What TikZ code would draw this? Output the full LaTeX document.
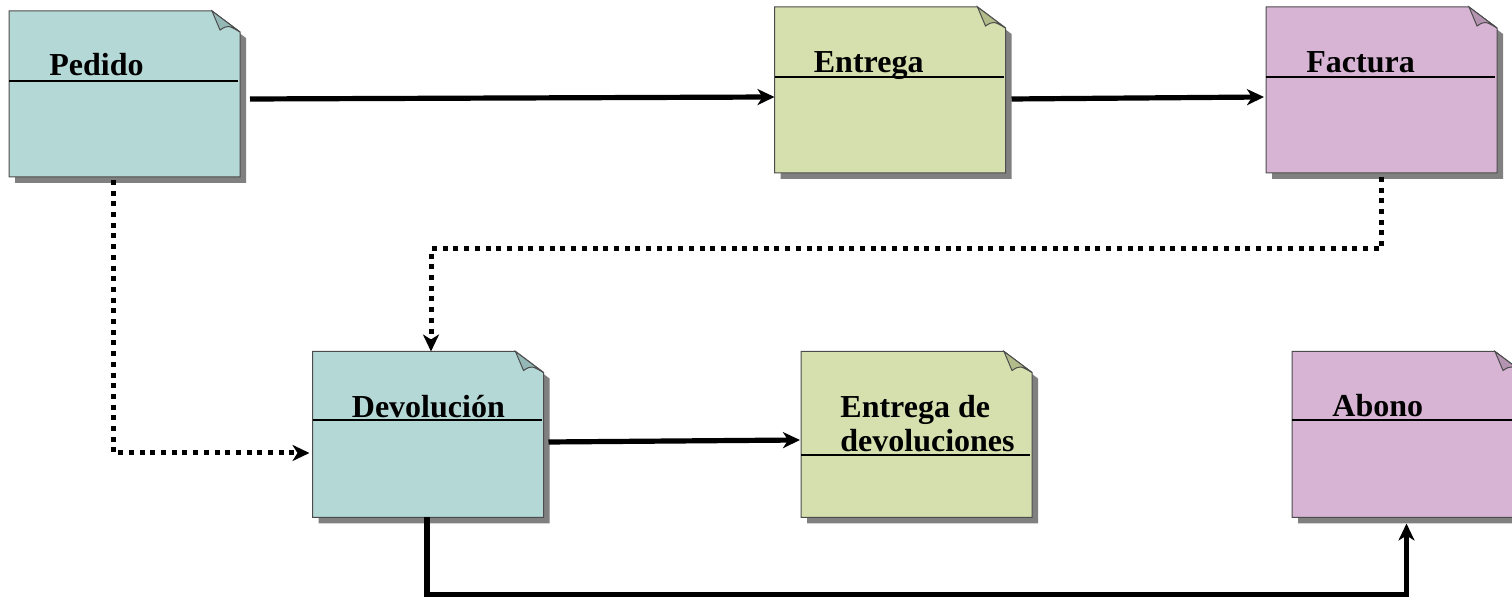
\documentclass[tikz,border=0pt]{standalone}
\usepackage{fontspec}
\setmainfont{Liberation Serif}
\usetikzlibrary{arrows.meta,calc}

\definecolor{tealdoc}{RGB}{180,216,214}
\definecolor{tealfold}{RGB}{148,184,182}
\definecolor{olivedoc}{RGB}{214,223,174}
\definecolor{olivefold}{RGB}{178,188,138}
\definecolor{plumdoc}{RGB}{216,180,212}
\definecolor{plumfold}{RGB}{180,148,176}

\begin{document}
\begin{tikzpicture}[
  x=0.5pt, y=-0.5pt,
  >={Stealth[length=8.5pt, width=8pt, inset=2.5pt]},
  doc/.style={minimum width=115.5pt, minimum height=83pt, inner sep=0pt, outer sep=0pt},
  title/.style={font=\bfseries\fontsize{16}{17}\selectfont, anchor=base west, inner sep=0pt, align=left},
  rule/.style={line width=1pt},
  edge/.style={draw=black!70, line width=0.5pt},
  flow/.style={->, line width=2.6pt},
  dots/.style={->, line width=2.5pt, dash pattern=on 2.5pt off 2.85pt},
]
  \useasboundingbox (0,0) rectangle (1512,597);
  \clip (0,0) rectangle (1512,597);

  \node[doc] (pedido)     at (124.5,94)   {};
  \node[doc] (entrega)    at (890,90)     {};
  \node[doc] (factura)    at (1381.5,90)  {};
  \node[doc] (devolucion) at (428,434.5)  {};
  \node[doc] (entregadev) at (916.5,434.5) {};
  \node[doc] (abono)      at (1407.5,434.5) {};

  % dog-eared sheets with a drop shadow
  \foreach \n/\f/\k in {pedido/tealdoc/tealfold, entrega/olivedoc/olivefold, factura/plumdoc/plumfold,
                        devolucion/tealdoc/tealfold, entregadev/olivedoc/olivefold, abono/plumdoc/plumfold} {
    \fill[gray] ($(\n.north west)+(6,6)$) -- ($(\n.north east)+(-22,6)$) -- ($(\n.north east)+(6,27)$)
      -- ($(\n.south east)+(6,6)$) -- ($(\n.south west)+(6,6)$) -- cycle;
    \filldraw[edge, fill=\f] (\n.north west) -- ($(\n.north east)+(-28,0)$) -- ($(\n.north east)+(0,21)$)
      -- (\n.south east) -- (\n.south west) -- cycle;
    \filldraw[edge, fill=\k] ($(\n.north east)+(-28,0)$) -- ($(\n.north east)+(-20,19)$)
      .. controls ($(\n.north east)+(-12,14)$) .. ($(\n.north east)+(0,21)$) -- cycle;
  }
  \foreach \n/\h in {pedido/70, entrega/70, factura/70, devolucion/69, entregadev/104, abono/69}
    \draw[rule] ($(\n.north west)+(0,\h)$) -- ($(\n.north east)+(-2,\h)$);

  \node[title] (pedidoT)     at ($(pedido.north west)+(40,65)$)     {Pedido};
  \node[title] (entregaT)    at ($(entrega.north west)+(39,66)$)    {Entrega};
  \node[title] (facturaT)    at ($(factura.north west)+(40,66)$)    {Factura};
  \node[title] (devolucionT) at ($(devolucion.north west)+(39,66)$) {Devolución};
  \node[title] (entregadevT) at ($(entregadev.north west)+(39,100)$) {Entrega de\\devoluciones};
  \node[title] (abonoT)      at ($(abono.north west)+(40,65)$)      {Abono};

  \draw[flow] ([shift={(10,5)}]pedido.east) -- ([shift={(0,7)}]entrega.west);
  \draw[flow] ([shift={(6,9)}]entrega.east) -- ([shift={(-2,7)}]factura.west);
  \draw[flow] ([shift={(5,7.5)}]devolucion.east) -- ([shift={(-1,5.5)}]entregadev.west);

  \draw[dots] ([yshift=-2pt]factura.south) -- ++(0,72) -| ([xshift=1.5pt]devolucion.north);
  \draw[dots] ([shift={(-11.5,3)}]pedido.south) |- ([shift={(-3,18.5)}]devolucion.west);

  \draw[flow] ([xshift=-0.5pt]devolucion.south) -- ++(0,77) -| ([shift={(-1,6)}]abono.south);
\end{tikzpicture}
\end{document}
